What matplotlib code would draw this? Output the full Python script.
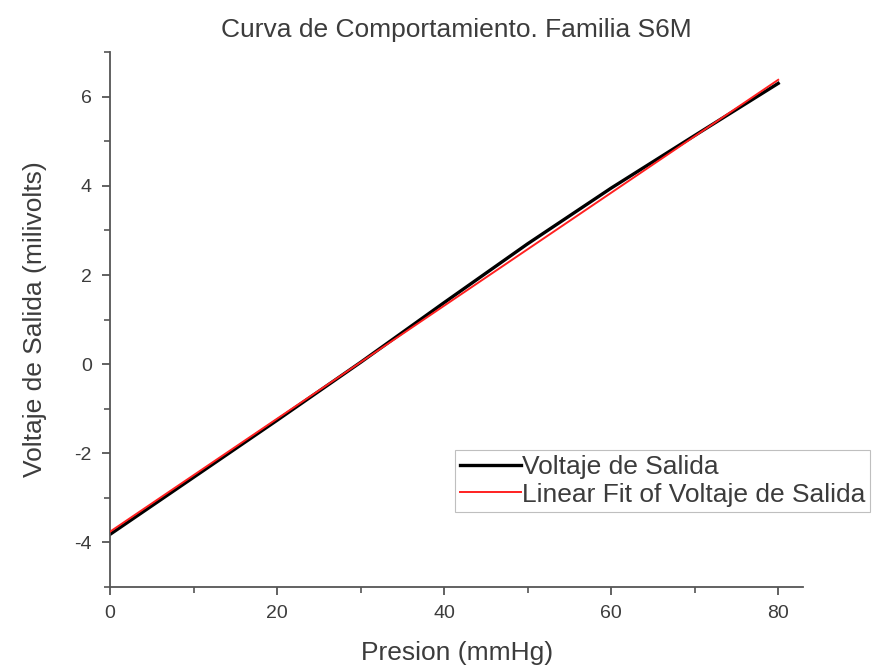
import matplotlib
matplotlib.use("Agg")
import matplotlib.pyplot as plt
from matplotlib.ticker import MultipleLocator

plt.rcParams['font.family'] = ['Liberation Sans', 'DejaVu Sans']
plt.rcParams['axes.unicode_minus'] = False

# Measured output voltage vs. applied pressure
presion = [0, 10, 20, 30, 40, 50, 60, 70, 80]
voltaje = [-3.82, -2.54, -1.26, 0.04, 1.38, 2.70, 3.95, 5.13, 6.30]

# Linear fit evaluated at the ends of the range
fit_x = [0, 80]
fit_y = [-3.76, 6.38]

text_color = '#3c3c3c'
axis_color = '#555555'

fig = plt.figure(figsize=(8.75, 6.69), dpi=100)
ax = fig.add_axes([0.1257, 0.1226, 0.7923, 0.7994])

ax.plot(presion, voltaje, color='black', lw=2.4, label='Voltaje de Salida', zorder=2)
ax.plot(fit_x, fit_y, color='#ff2020', lw=1.4, label='Linear Fit of Voltaje de Salida', zorder=3)

ax.set_xlim(0, 83)
ax.set_ylim(-5, 7)
ax.xaxis.set_major_locator(MultipleLocator(20))
ax.xaxis.set_minor_locator(MultipleLocator(10))
ax.yaxis.set_major_locator(MultipleLocator(2))
ax.yaxis.set_minor_locator(MultipleLocator(1))

for side in ('top', 'right'):
    ax.spines[side].set_visible(False)
for side in ('left', 'bottom'):
    ax.spines[side].set_color(axis_color)
    ax.spines[side].set_linewidth(1.3)

ax.tick_params(which='major', direction='out', length=6, width=1.3, color=axis_color,
               labelcolor=text_color, labelsize=14, pad=7)
ax.tick_params(which='minor', direction='out', length=4, width=1.2, color=axis_color)

ax.set_xlabel('Presion (mmHg)', fontsize=19, color=text_color, labelpad=14)
ax.set_ylabel('Voltaje de Salida (milivolts)', fontsize=19, color=text_color, labelpad=20)
ax.set_title('Curva de Comportamiento. Familia S6M', fontsize=19, color=text_color, pad=11)

leg = ax.legend(loc='upper left', bbox_to_anchor=(0.497, 0.256), fontsize=19,
                frameon=True, fancybox=False, handlelength=2.3, handletextpad=0.05,
                borderpad=0.2, labelspacing=0.12, borderaxespad=0)
leg.get_frame().set_edgecolor('#b0b0b0')
leg.get_frame().set_linewidth(0.8)
for t in leg.get_texts():
    t.set_color(text_color)

fig.savefig('out.png', dpi=100)
